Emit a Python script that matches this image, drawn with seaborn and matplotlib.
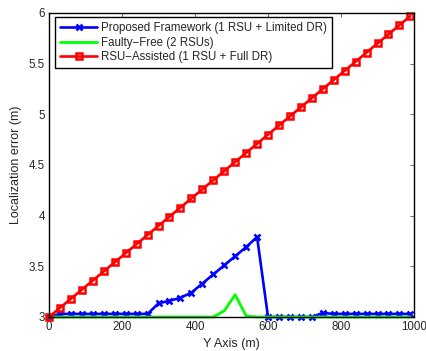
import matplotlib
matplotlib.use("Agg")
import matplotlib.pyplot as plt
import seaborn as sns
import pandas as pd

# ---- data ----
y_axis = [0, 30, 60, 90, 120, 150, 180, 210, 240, 270, 300, 330, 360, 390, 420,
          450, 480, 510, 540, 570, 600, 630, 660, 690, 720, 750, 780, 810, 840,
          870, 900, 930, 960, 990]
proposed = [3.00, 3.03, 3.03, 3.03, 3.03, 3.03, 3.03, 3.03, 3.03, 3.03, 3.135,
            3.16, 3.19, 3.24, 3.33, 3.42, 3.51, 3.60, 3.69, 3.79, 3.00, 3.00,
            3.00, 3.00, 3.00, 3.04, 3.03, 3.03, 3.03, 3.03, 3.03, 3.03, 3.03, 3.03]
faulty_free = [3.00, 3.00, 3.00, 3.00, 3.00, 3.00, 3.00, 3.00, 3.00, 3.00, 3.00,
               3.00, 3.00, 3.00, 3.00, 3.00, 3.06, 3.22, 3.01, 3.00, 3.00, 3.00,
               3.00, 3.00, 3.00, 3.00, 3.00, 3.00, 3.00, 3.00, 3.00, 3.00, 3.00, 3.00]
rsu_assisted = [3.00, 3.09, 3.18, 3.27, 3.36, 3.45, 3.54, 3.63, 3.72, 3.81, 3.90,
                3.99, 4.08, 4.17, 4.26, 4.35, 4.44, 4.53, 4.62, 4.71, 4.80, 4.89,
                4.98, 5.07, 5.16, 5.25, 5.34, 5.43, 5.52, 5.61, 5.70, 5.79, 5.88, 5.97]
labels = ["Proposed Framework (1 RSU + Limited DR)",
          "Faulty\u2212Free (2 RSUs)",
          "RSU\u2212Assisted (1 RSU + Full DR)"]
x_ticks = [0, 200, 400, 600, 800, 1000]
y_ticks = [3, 3.5, 4, 4.5, 5, 5.5, 6]
y_tick_labels = ["3", "3.5", "4", "4.5", "5", "5.5", "6"]

df = pd.DataFrame({"x": y_axis, "p": proposed, "f": faulty_free, "r": rsu_assisted})

sns.set_style("white")
plt.rcParams["font.family"] = ["Liberation Sans", "DejaVu Sans"]
plt.rcParams["font.size"] = 8

fig = plt.figure(figsize=(4.27, 3.51), dpi=100)
ax = fig.add_axes([0.1148, 0.0969, 0.8548, 0.8661])

blue = (0, 0, 1)
green = (0, 1, 0)
red = (1, 0, 0)

sns.lineplot(data=df, x="x", y="p", ax=ax, color=blue, linewidth=1.9,
             marker="x", markersize=4.5, markeredgewidth=1.8,
             markeredgecolor=blue, markerfacecolor=blue,
             label=labels[0], clip_on=False)
sns.lineplot(data=df, x="x", y="f", ax=ax, color=green, linewidth=2.0,
             label=labels[1], clip_on=False)
sns.lineplot(data=df, x="x", y="r", ax=ax, color=red, linewidth=1.9,
             marker="s", markersize=3.8, markeredgewidth=1.8,
             markerfacecolor="none", markeredgecolor=red,
             label=labels[2], clip_on=False)

ax.set_xlim(0, 1000)
ax.set_ylim(3, 6)
ax.set_xticks(x_ticks)
ax.set_xticklabels([str(t) for t in x_ticks])
ax.set_yticks(y_ticks)
ax.set_yticklabels(y_tick_labels)
ax.set_xlabel("Y Axis (m)", fontsize=9, labelpad=3.5)
ax.set_ylabel("Localization error (m)", fontsize=9, labelpad=5)
ax.tick_params(direction="in", length=3, width=0.6, top=True, right=True,
               labelsize=8.3, pad=3, color="#555555")
for s in ax.spines.values():
    s.set_color("black")
    s.set_linewidth(1.0)

leg = ax.legend(loc="upper left", bbox_to_anchor=(0.0164, 0.986), frameon=True,
                fancybox=False, edgecolor="black", framealpha=1,
                handlelength=3.2, handletextpad=0.36, borderpad=0.45,
                labelspacing=0.2, fontsize=8.3, borderaxespad=0)
leg.get_frame().set_linewidth(1.0)

fig.savefig("out.png", dpi=100)
